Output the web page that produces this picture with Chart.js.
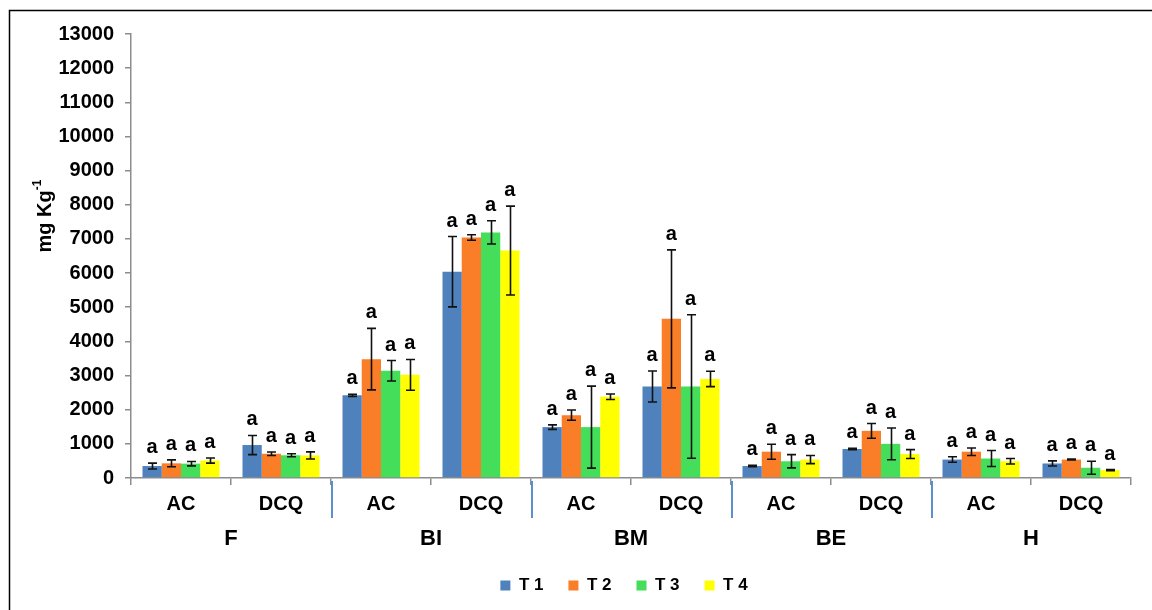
<!DOCTYPE html>
<html>
<head>
<meta charset="utf-8">
<script src="https://cdn.jsdelivr.net/npm/chart.js@4/dist/chart.umd.min.js"></script>
<style>
  html, body { margin: 0; padding: 0; background: #ffffff; }
  #wrap { position: relative; width: 1152px; height: 610px; }
</style>
</head>
<body>
<div id="wrap"><canvas id="chart" width="1152" height="610"></canvas></div>
<script>
// Sampling sites (outer level) and extraction methods (inner level)
const sites = ["F", "BI", "BM", "BE", "H"];
const methods = ["AC", "DCQ"];
const categories = ["AC", "DCQ", "AC", "DCQ", "AC", "DCQ", "AC", "DCQ", "AC", "DCQ"];

// Treatment series names
const seriesNames = ["T 1", "T 2", "T 3", "T 4"];

// Mean concentrations (mg Kg-1), one value per site/method pair
const t1Values = [350, 965, 2420, 6040, 1490, 2680, 350, 850, 540, 425];
const t2Values = [430, 710, 3480, 7040, 1840, 4660, 770, 1380, 770, 540];
const t3Values = [420, 665, 3140, 7190, 1490, 2680, 490, 1000, 570, 300];
const t4Values = [510, 660, 3020, 6660, 2380, 2900, 540, 700, 490, 230];

// Standard deviations for the error bars
const t1Errors = [85, 280, 30, 1030, 65, 455, 20, 20, 80, 75];
const t2Errors = [100, 50, 900, 80, 150, 2020, 220, 215, 110, 15];
const t3Errors = [65, 45, 300, 340, 1200, 2100, 195, 465, 235, 190];
const t4Errors = [75, 105, 450, 1300, 80, 225, 120, 130, 80, 15];

// Significance letters (Tukey groups) above each bar
const t1Letters = ["a", "a", "a", "a", "a", "a", "a", "a", "a", "a"];
const t2Letters = ["a", "a", "a", "a", "a", "a", "a", "a", "a", "a"];
const t3Letters = ["a", "a", "a", "a", "a", "a", "a", "a", "a", "a"];
const t4Letters = ["a", "a", "a", "a", "a", "a", "a", "a", "a", "a"];

// Y axis ticks
const yMin = 0;
const yMax = 13000;
const yStep = 1000;

const seriesColors = ["#4F81BD", "#FA7D28", "#45DE5A", "#FFFF00"];
const FONT = "'Liberation Sans', Arial, sans-serif";

const allValues = [t1Values, t2Values, t3Values, t4Values];
const allErrors = [t1Errors, t2Errors, t3Errors, t4Errors];
const allLetters = [t1Letters, t2Letters, t3Letters, t4Letters];

// Error bars with caps, plus the significance letter above each cap
const errorBarPlugin = {
  id: "errorBars",
  afterDatasetsDraw(chart) {
    const ctx = chart.ctx;
    const y = chart.scales.y;
    ctx.save();
    chart.data.datasets.forEach((ds, di) => {
      const meta = chart.getDatasetMeta(di);
      if (meta.hidden) return;
      meta.data.forEach((bar, i) => {
        const v = allValues[di][i];
        const e = allErrors[di][i];
        const top = y.getPixelForValue(v + e);
        const bot = y.getPixelForValue(Math.max(v - e, 0));
        const x = Math.round(bar.x) + 0.5;
        ctx.strokeStyle = "#111111";
        ctx.lineWidth = 1.6;
        ctx.beginPath();
        ctx.moveTo(x, top);
        ctx.lineTo(x, bot);
        ctx.moveTo(x - 4.5, top);
        ctx.lineTo(x + 4.5, top);
        ctx.moveTo(x - 4.5, bot);
        ctx.lineTo(x + 4.5, bot);
        ctx.stroke();
        ctx.fillStyle = "#000000";
        ctx.font = "bold 20px " + FONT;
        ctx.textAlign = "center";
        ctx.textBaseline = "alphabetic";
        ctx.fillText(allLetters[di][i], bar.x, top - 10);
      });
    });
    ctx.restore();
  }
};

// Legend sits centred under the plot area rather than the whole canvas
const legendShiftPlugin = {
  id: "legendShift",
  afterLayout(chart) {
    const lg = chart.legend;
    if (!lg) return;
    const area = chart.chartArea;
    const dx = (area.left + area.right) / 2 - (lg.left + lg.right) / 2 - 7;
    lg.left += dx;
    lg.right += dx;
  }
};

// Outer category level, axis title and the frame lines
const decorPlugin = {
  id: "decor",
  afterDraw(chart) {
    const ctx = chart.ctx;
    const x = chart.scales.x;
    const area = chart.chartArea;
    const half = (x.getPixelForValue(1) - x.getPixelForValue(0)) / 2;
    ctx.save();
    // separators between sites
    ctx.strokeStyle = "#5B8FD0";
    ctx.lineWidth = 2;
    for (let g = 1; g < sites.length; g++) {
      const px = Math.round(x.getPixelForValue(g * methods.length) - half) + 1;
      ctx.beginPath();
      ctx.moveTo(px, area.bottom + 3);
      ctx.lineTo(px, area.bottom + 40);
      ctx.stroke();
    }
    // site names
    ctx.fillStyle = "#000000";
    ctx.font = "bold 22px " + FONT;
    ctx.textAlign = "center";
    ctx.textBaseline = "middle";
    sites.forEach((s, g) => {
      const a = x.getPixelForValue(g * methods.length);
      const b = x.getPixelForValue(g * methods.length + methods.length - 1);
      ctx.fillText(s, (a + b) / 2, area.bottom + 61);
    });
    // y axis title with superscript
    ctx.translate(44, 216);
    ctx.rotate(-Math.PI / 2);
    ctx.textAlign = "left";
    ctx.textBaseline = "alphabetic";
    ctx.font = "bold 20px " + FONT;
    const main = "mg Kg";
    const w1 = ctx.measureText(main).width;
    ctx.font = "bold 12px " + FONT;
    const sup = "-1";
    const w2 = ctx.measureText(sup).width;
    const start = -(w1 + w2) / 2;
    ctx.font = "bold 20px " + FONT;
    ctx.fillText(main, start, 7);
    ctx.font = "bold 12px " + FONT;
    ctx.fillText(sup, start + w1, -3);
    ctx.restore();
    // frame
    ctx.save();
    ctx.strokeStyle = "#000000";
    ctx.lineWidth = 1.5;
    ctx.beginPath();
    ctx.moveTo(9.5, 610);
    ctx.lineTo(9.5, 10.5);
    ctx.lineTo(1152, 10.5);
    ctx.stroke();
    ctx.restore();
  }
};

const datasets = seriesNames.map((name, i) => ({
  label: name,
  data: allValues[i],
  backgroundColor: seriesColors[i],
  borderWidth: 0,
  categoryPercentage: 0.77,
  barPercentage: 1.0
}));

new Chart(document.getElementById("chart"), {
  type: "bar",
  data: { labels: categories, datasets },
  options: {
    responsive: false,
    animation: false,
    events: [],
    layout: { padding: { top: 34, right: 21, left: 0, bottom: 6 } },
    plugins: {
      legend: {
        position: "bottom",
        labels: {
          boxWidth: 10,
          boxHeight: 10,
          padding: 25,
          color: "#000000",
          font: { family: FONT, size: 17, weight: "bold" }
        }
      },
      tooltip: { enabled: false }
    },
    scales: {
      x: {
        afterFit(scale) { scale.height = 74; },
        grid: {
          display: true,
          offset: true,
          drawOnChartArea: false,
          drawTicks: true,
          tickLength: 7,
          color: "#8C8C8C",
          lineWidth: 1.5
        },
        border: { color: "#8C8C8C", width: 1.5 },
        ticks: {
          color: "#000000",
          padding: 7,
          maxRotation: 0,
          autoSkip: false,
          font: { family: FONT, size: 20, weight: "bold" }
        }
      },
      y: {
        min: yMin,
        max: yMax,
        afterFit(scale) { scale.width = 131; },
        grid: {
          drawOnChartArea: false,
          drawTicks: true,
          tickLength: 6,
          color: "#8C8C8C",
          lineWidth: 1.5
        },
        border: { color: "#8C8C8C", width: 1.5 },
        ticks: {
          stepSize: yStep,
          color: "#000000",
          padding: 11,
          callback: (v) => String(v),
          font: { family: FONT, size: 20, weight: "bold" }
        }
      }
    }
  },
  plugins: [errorBarPlugin, legendShiftPlugin, decorPlugin]
});
</script>
</body>
</html>
